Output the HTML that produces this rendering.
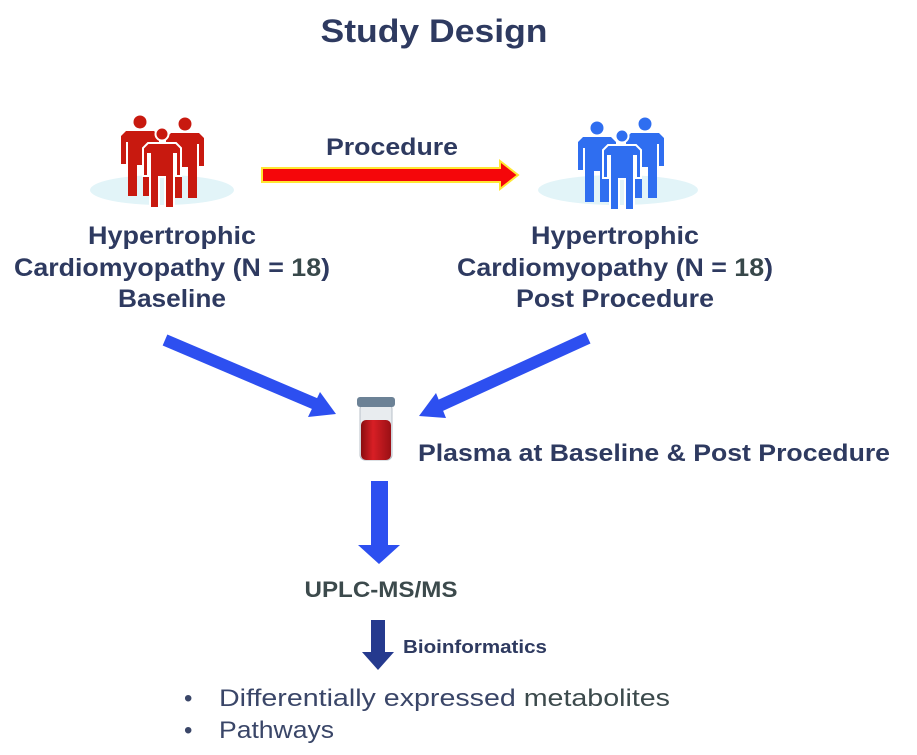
<!DOCTYPE html>
<html><head><style>
html,body{margin:0;padding:0;background:#fff;}
svg{display:block;font-family:"Liberation Sans",sans-serif;}
</style></head><body>
<svg width="917" height="755" viewBox="0 0 917 755">
<defs>
<g id="man">
<circle cx="0" cy="-36" r="6.5"/>
<path d="M-14,-27 L14,-27 L19,-22 L19,6 L14,6 L14,-16 L12,-16 L12,38 L3,38 L3,7 L-3,7 L-3,38 L-12,38 L-12,-16 L-14,-16 L-14,6 L-19,6 L-19,-22 Z"/>
</g>
<linearGradient id="tube" x1="0" x2="1"><stop offset="0" stop-color="#8a0d10"/><stop offset="0.4" stop-color="#d81f25"/><stop offset="1" stop-color="#9a1015"/></linearGradient>
</defs>
<text x="434" y="42" font-size="32" font-weight="bold" fill="#2e3a60" text-anchor="middle" textLength="227" lengthAdjust="spacingAndGlyphs">Study Design</text>

<ellipse cx="162" cy="190" rx="72" ry="15" fill="#e2f4f8"/>
<g fill="#c8190f">
<use href="#man" transform="translate(140,158)"/>
<use href="#man" transform="translate(185,160)"/>
<use href="#man" transform="translate(162,170)" stroke="#fff" stroke-width="2"/>
</g>
<ellipse cx="618" cy="190" rx="80" ry="15" fill="#e2f4f8"/>
<g fill="#2f6ef0">
<use href="#man" transform="translate(597,164)"/>
<use href="#man" transform="translate(645,160)"/>
<use href="#man" transform="translate(622,172)" stroke="#fff" stroke-width="2"/>
</g>

<text x="392" y="155" font-size="24" font-weight="bold" fill="#2e3a60" text-anchor="middle" textLength="132" lengthAdjust="spacingAndGlyphs">Procedure</text>
<path d="M262,168 L500,168 L500,161 L518,175 L500,189 L500,182 L262,182 Z" fill="#f5060a" stroke="#ffe633" stroke-width="2"/>

<g font-size="25" font-weight="bold" fill="#2e3a60" text-anchor="middle" lengthAdjust="spacingAndGlyphs">
<text x="172" y="244" textLength="168" lengthAdjust="spacingAndGlyphs">Hypertrophic</text>
<text x="172" y="276" textLength="316" lengthAdjust="spacingAndGlyphs">Cardiomyopathy (N = <tspan fill="#38484a">18</tspan>)</text>
<text x="172" y="307" textLength="108" lengthAdjust="spacingAndGlyphs">Baseline</text>
<text x="615" y="244" textLength="168" lengthAdjust="spacingAndGlyphs">Hypertrophic</text>
<text x="615" y="276" textLength="316" lengthAdjust="spacingAndGlyphs">Cardiomyopathy (N = <tspan fill="#38484a">18</tspan>)</text>
<text x="615" y="307" textLength="198" lengthAdjust="spacingAndGlyphs">Post Procedure</text>
</g>

<line x1="165" y1="340" x2="318" y2="405" stroke="#2d4ff0" stroke-width="12"/>
<path d="M336,414 L308,417 L320,392 Z" fill="#2d4ff0"/>
<line x1="588" y1="338" x2="437" y2="407" stroke="#2d4ff0" stroke-width="12"/>
<path d="M419,416 L436,393 L446,418 Z" fill="#2d4ff0"/>

<rect x="360" y="404" width="32" height="56" rx="5" fill="#e8ecef" stroke="#b8c0c8"/>
<rect x="361" y="420" width="30" height="40" rx="5" fill="url(#tube)"/>
<rect x="357" y="397" width="38" height="10" rx="3" fill="#6c8296"/>

<text x="418" y="461" font-size="24" font-weight="bold" fill="#2e3a60" textLength="472" lengthAdjust="spacingAndGlyphs">Plasma at Baseline &amp; Post Procedure</text>

<path d="M371,481 L388,481 L388,545 L400,545 L379,564 L358,545 L371,545 Z" fill="#2d4ff0"/>
<text x="381" y="597" font-size="22" font-weight="bold" fill="#3c4a4c" text-anchor="middle" textLength="153" lengthAdjust="spacingAndGlyphs">UPLC-MS/MS</text>

<path d="M371,620 L385,620 L385,652 L394,652 L378,670 L362,652 L371,652 Z" fill="#253a8e"/>
<text x="403" y="653" font-size="18" font-weight="bold" fill="#2e3a60" textLength="144" lengthAdjust="spacingAndGlyphs">Bioinformatics</text>

<g font-size="24" fill="#3a4668">
<text x="184" y="706">•</text>
<text x="219" y="706" textLength="451" lengthAdjust="spacingAndGlyphs">Differentially expressed <tspan fill="#3c4a4c">metabolites</tspan></text>
<text x="184" y="738">•</text>
<text x="219" y="738" textLength="115" lengthAdjust="spacingAndGlyphs">Pathways</text>
</g>
</svg>
</body></html>
